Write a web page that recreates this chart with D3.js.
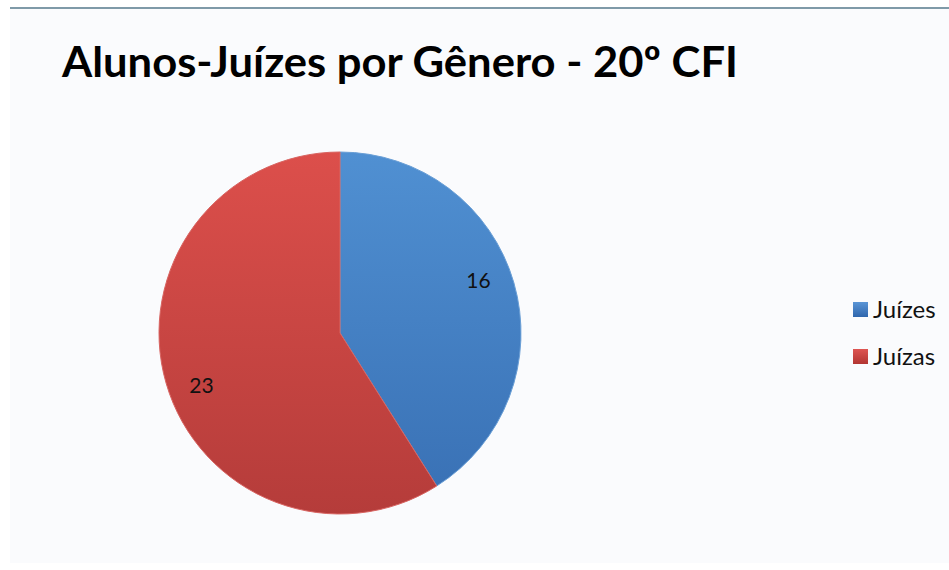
<!DOCTYPE html>
<html>
<head>
<meta charset="utf-8">
<script src="https://cdn.jsdelivr.net/npm/d3@7"></script>
<style>
  body { margin: 0; background: #fff; }
  svg { display: block; }
</style>
</head>
<body>
<div id="chart"></div>
<script>
const width = 949;
const height = 570;

const title = 'Alunos-Juízes por Gênero - 20º CFI';
const categories = ['Juízes', 'Juízas'];
const values = [16, 23];
const colors = ['#4683c6', '#cf4643'];

const cx = 340, cy = 333, radius = 181;

const svg = d3.select('#chart')
    .append('svg')
    .attr('width', width)
    .attr('height', height);

const defs = svg.append('defs');

// slight shading like the original office chart
const grads = [
    ['grad0', '#5090d2', '#3a72b6'],
    ['grad1', '#dc4f4b', '#b53c3a'],
    ['lgrad0', '#5a95d6', '#2f66ad'],
    ['lgrad1', '#de5552', '#b23532']
];
grads.forEach(g => {
    const lg = defs.append('linearGradient')
        .attr('id', g[0])
        .attr('x1', 0).attr('y1', 0).attr('x2', 0).attr('y2', 1);
    lg.append('stop').attr('offset', '0%').attr('stop-color', g[1]);
    lg.append('stop').attr('offset', '100%').attr('stop-color', g[2]);
});

// plot background and top rule
svg.append('rect')
    .attr('x', 10).attr('y', 9)
    .attr('width', width - 10).attr('height', 554)
    .attr('fill', '#fafbfd');

svg.append('line')
    .attr('x1', 10).attr('x2', width)
    .attr('y1', 8).attr('y2', 8)
    .attr('stroke', '#7f9aa8')
    .attr('stroke-width', 2);

// title
svg.append('text')
    .attr('x', 62)
    .attr('y', 77)
    .attr('font-family', 'Lato, sans-serif')
    .attr('font-weight', 'bold')
    .attr('font-size', 42)
    .attr('textLength', 676)
    .attr('lengthAdjust', 'spacingAndGlyphs')
    .attr('fill', '#000')
    .text(title);

// pie
const pie = d3.pie().sort(null).startAngle(0).endAngle(2 * Math.PI);
const arcs = pie(values);
const arc = d3.arc().innerRadius(0).outerRadius(radius);

// labels sit a little before the middle of each slice (best fit)
const labelR = 148;
const labelShift = -4.5 * Math.PI / 180;
function labelPos(d) {
    const a = (d.startAngle + d.endAngle) / 2 + labelShift;
    return [labelR * Math.sin(a), -labelR * Math.cos(a)];
}

const g = svg.append('g').attr('transform', `translate(${cx},${cy})`);

g.selectAll('path.slice')
    .data(arcs)
    .enter()
    .append('path')
    .attr('class', 'slice')
    .attr('d', arc)
    .attr('fill', (d, i) => `url(#grad${i})`)
    .attr('stroke', (d, i) => i === 0 ? '#6a9fd6' : '#d86461')
    .attr('stroke-width', 1);

g.selectAll('text.lbl')
    .data(arcs)
    .enter()
    .append('text')
    .attr('class', 'lbl')
    .attr('transform', d => `translate(${labelPos(d)})`)
    .attr('text-anchor', 'middle')
    .attr('dy', '0.35em')
    .attr('font-family', 'Lato, sans-serif')
    .attr('font-size', 21)
    .attr('fill', '#111')
    .text(d => d.data);

// legend
const legend = svg.append('g')
    .attr('transform', 'translate(853,302)');

const item = legend.selectAll('g.item')
    .data(categories)
    .enter()
    .append('g')
    .attr('class', 'item')
    .attr('transform', (d, i) => `translate(0,${i * 47})`);

item.append('rect')
    .attr('width', 15)
    .attr('height', 15)
    .attr('fill', (d, i) => `url(#lgrad${i})`);

item.append('text')
    .attr('x', 20)
    .attr('y', 16)
    .attr('font-family', 'Lato, sans-serif')
    .attr('font-size', 24)
    .attr('fill', '#111')
    .text(d => d);
</script>
</body>
</html>
